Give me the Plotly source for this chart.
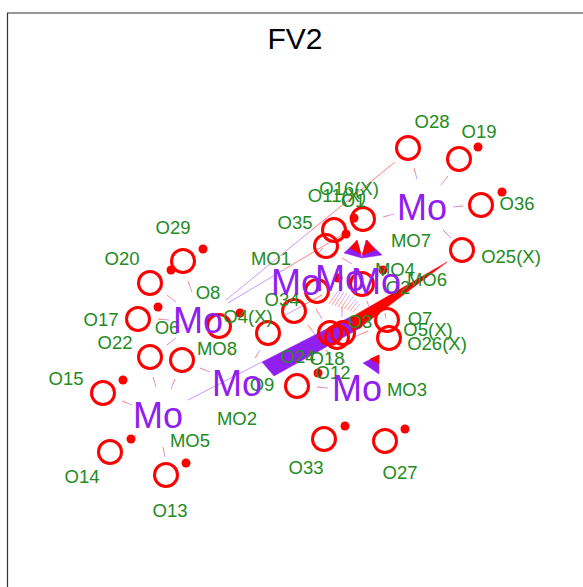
import plotly.graph_objects as go

title = "FV2"
frame_x = [7.5, 7.5, 583]
frame_y = [587, 13, 13]

ring_x = [408, 459, 481, 462, 363, 334, 326, 317, 362, 294, 268, 387, 389, 330, 343, 337, 297, 183, 150, 138, 150, 182, 219, 103, 110, 166, 324, 385]
ring_y = [148, 159, 205, 250, 219, 230, 246, 291, 284, 311, 333, 320, 338, 333, 333, 337, 386, 261, 283, 319, 357, 360, 326, 393, 452, 475, 439, 441]

dot_x = [203, 171, 158, 240, 123, 131, 186, 345, 405, 318, 478, 502, 354, 346, 383, 338, 357, 365]
dot_y = [249, 270, 307, 313, 380, 439, 463, 426, 429, 373, 147, 192, 218, 234, 270, 278, 324, 316]

metal_labels = ["Mo"] * 8
metal_x = [422, 296, 340, 376, 357, 198, 237, 158]
metal_y = [211, 286, 282, 285, 392, 324, 387, 419]

atom_labels = ["O28", "O19", "O36", "O25(X)", "O16(X)", "O11(X)", "O1", "O35", "MO7", "MO1", "MO4", "MO6", "O2", "O34", "O4(X)", "O8", "O29", "O20", "O17", "O6", "O22", "MO8", "O15", "O14", "O13", "MO5", "MO2", "O9", "O24", "O18", "O12", "MO3", "O33", "O27", "O7", "O5(X)", "O26(X)", "O3"]
atom_x = [432, 479, 517, 511, 349, 337, 353, 295, 411, 271, 395, 427, 398, 282, 248, 208, 173, 122, 101, 167, 115, 217, 66, 82, 170, 190, 237, 262, 298, 327, 333, 407, 306, 400, 420, 428, 437, 360]
atom_y = [123, 133, 205, 258, 190, 197, 202, 224, 242, 260, 271, 281, 289, 301, 318, 294, 229, 260, 321, 329, 344, 350, 380, 478, 512, 442, 420, 386, 358, 360, 374, 391, 469, 474, 320, 331, 345, 323]

bond_x0 = [414, 448, 463, 443, 383, 342, 316, 308, 326, 341, 317, 342, 385, 368, 323, 367, 167, 188, 158, 167, 153, 175, 200, 122, 255, 230, 163, 136]
bond_y0 = [168, 176, 206, 230, 217, 258, 309, 325, 350, 353, 387, 307, 313, 331, 248, 301, 295, 281, 319, 345, 377, 379, 368, 401, 358, 351, 447, 435]
bond_x1 = [417, 441, 453, 451, 394, 352, 322, 316, 332, 345, 328, 342, 386, 352, 318, 369, 176, 192, 169, 176, 156, 171, 210, 132, 260, 232, 165, 133]
bond_y1 = [179, 185, 207, 238, 214, 264, 319, 336, 360, 363, 388, 317, 319, 338, 253, 307, 302, 292, 320, 338, 387, 389, 372, 405, 350, 356, 457, 438]

long_x0 = [395, 342, 322]
long_y0 = [162, 235, 295]
long_x1 = [226, 228, 282]
long_y1 = [300, 303, 317]

long_purple_x = [188, 262]
long_purple_y = [400, 362]

wedge_purple_x = [262, 274, 362, 352, 262]
wedge_purple_y = [362, 376, 327, 316, 362]
wedge_red_x = [350, 358, 447, 350]
wedge_red_y = [318, 329, 262, 318]

tri_purple_x = [[344, 357, 362, 344], [366, 382, 362, 366], [363, 379, 379, 363]]
tri_purple_y = [[253, 241, 258, 253], [240, 255, 258, 240], [363, 355, 374, 363]]
tri_red_x = [[350, 357, 361, 350], [367, 375, 362, 367], [370, 379, 379, 370]]
tri_red_y = [[248, 240, 254, 248], [240, 250, 255, 240], [359, 355, 364, 359]]

hash_x0 = [329, 332, 335, 338, 341, 344, 347, 350, 353]
hash_y0 = [304, 305, 306, 307, 308, 309, 310, 311, 312]
hash_x1 = [338, 341, 344, 347, 350, 353, 356, 358, 360]
hash_y1 = [291, 291, 292, 293, 295, 297, 299, 301, 304]

PURPLE = "#9020F0"
RED = "#FF0000"
GREEN = "#228B22"
SOFT_RED = "rgba(255,0,0,0.5)"
SOFT_PURPLE = "rgba(155,48,255,0.5)"


def split_segments(x0, y0, x1, y1):
    rx, ry, px, py = [], [], [], []
    for a, b, c, d in zip(x0, y0, x1, y1):
        mx, my = (a + c) / 2, (b + d) / 2
        rx += [a, mx, None]
        ry += [b, my, None]
        px += [mx, c, None]
        py += [my, d, None]
    return rx, ry, px, py


fig = go.Figure()


def line(x, y, color, width):
    fig.add_trace(go.Scatter(x=x, y=y, mode="lines", line=dict(color=color, width=width), hoverinfo="skip"))


def poly(x, y, color):
    fig.add_trace(go.Scatter(x=x, y=y, mode="lines", fill="toself", fillcolor=color, line=dict(color=color, width=0.5), hoverinfo="skip"))


line(frame_x, frame_y, "#333333", 1.2)

rx, ry, px, py = split_segments(bond_x0, bond_y0, bond_x1, bond_y1)
line(rx, ry, SOFT_RED, 1)
line(px, py, SOFT_PURPLE, 1)

rx, ry, px, py = split_segments(long_x0, long_y0, long_x1, long_y1)
line(rx, ry, SOFT_RED, 1)
line(px, py, SOFT_PURPLE, 1)
line(long_purple_x, long_purple_y, SOFT_PURPLE, 1)

rx, ry, px, py = split_segments(hash_x0, hash_y0, hash_x1, hash_y1)
line(rx, ry, SOFT_RED, 0.8)
line(px, py, SOFT_PURPLE, 0.8)

poly(wedge_purple_x, wedge_purple_y, PURPLE)
poly(wedge_red_x, wedge_red_y, RED)
for x, y in zip(tri_purple_x, tri_purple_y):
    poly(x, y, PURPLE)
for x, y in zip(tri_red_x, tri_red_y):
    poly(x, y, RED)

fig.add_trace(go.Scatter(x=dot_x, y=dot_y, mode="markers", marker=dict(color=RED, size=9), hoverinfo="skip"))
fig.add_trace(go.Scatter(x=ring_x, y=ring_y, mode="markers", marker=dict(symbol="circle-open", size=23, color=RED, line=dict(color=RED, width=3)), hoverinfo="skip"))
fig.add_trace(go.Scatter(x=atom_x, y=atom_y, mode="text", text=atom_labels, textposition="middle center", textfont=dict(color=GREEN, size=18.5, family="Liberation Sans"), hoverinfo="skip"))
fig.add_trace(go.Scatter(x=metal_x, y=metal_y, mode="text", text=metal_labels, textposition="middle center", textfont=dict(color=PURPLE, size=36, family="Liberation Sans"), hoverinfo="skip"))
fig.add_trace(go.Scatter(x=[295], y=[41], mode="text", text=[title], textposition="middle center", textfont=dict(color="#000000", size=30, family="Liberation Sans"), hoverinfo="skip"))

fig.update_layout(
    width=583, height=587, margin=dict(l=0, r=0, t=0, b=0),
    paper_bgcolor="white", plot_bgcolor="white", showlegend=False,
    xaxis=dict(range=[0, 583], visible=False, fixedrange=True),
    yaxis=dict(range=[587, 0], visible=False, fixedrange=True),
)
fig.write_html("out.html", config={"displayModeBar": False}, post_script="document.body.style.margin='0';")
